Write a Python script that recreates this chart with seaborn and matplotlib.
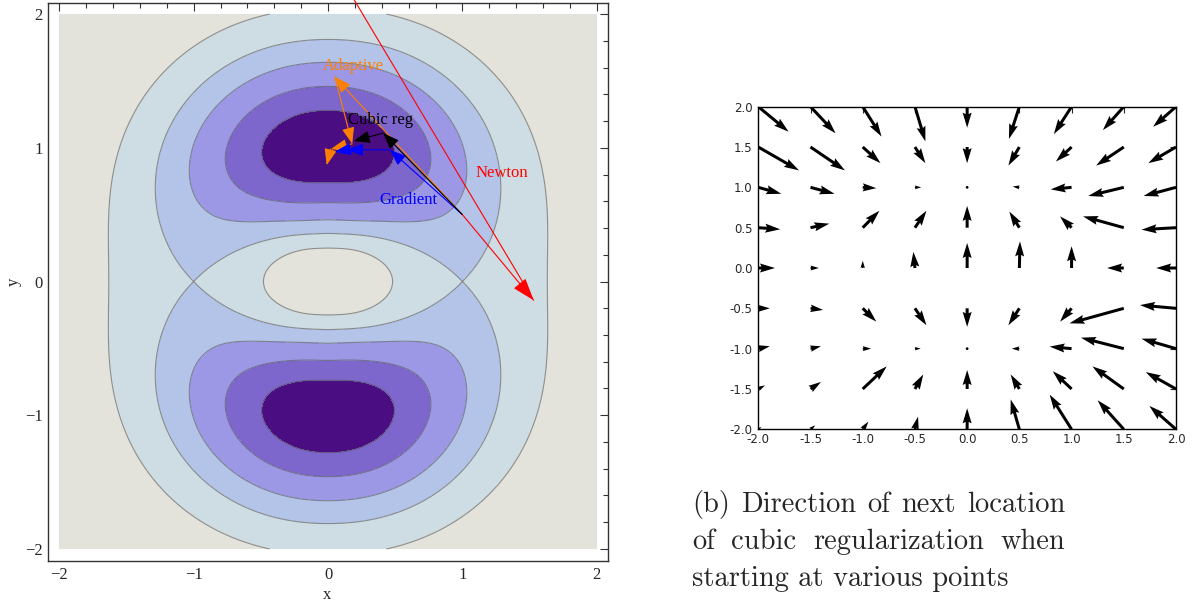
import numpy as np
import matplotlib
matplotlib.use("Agg")
import matplotlib.pyplot as plt
from matplotlib.ticker import MultipleLocator, FormatStrFormatter
import seaborn as sns

# ---- left panel: contour plot of the test function ----
band_colors = ["#4a0e82", "#7d66cc", "#9c98e6", "#b4c3e8", "#cedce3", "#e3e3db"]
band_levels = [0.068, 0.168, 0.29, 0.41, 0.5625]

# ring shaped valley: minima at (0, +-1), saddles at (+-1, 0), bump at the origin
ring_depth = 0.41
depth_power = 1.2
inner_power = 1.4
k_in_y, k_in_x = 1.0, 0.565
k_out_y, k_out_x = 0.916, 0.49
k_out_sat = 0.71

# optimisation paths, all starting at (1, 0.5)
newton_x = [1.0, 1.53, -0.2]
newton_y = [0.5, -0.14, 2.77]
adaptive_x = [1.0, 0.05, 0.18, 0.02, -0.01]
adaptive_y = [0.5, 1.53, 1.03, 0.99, 0.87]
cubic_x = [1.0, 0.41, 0.19]
cubic_y = [0.5, 1.11, 1.05]
gradient_x = [1.0, 0.46, 0.14, 0.05]
gradient_y = [0.5, 0.985, 0.985, 0.97]

labels = ["Adaptive", "Cubic reg", "Gradient", "Newton"]
label_x = [0.19, 0.39, 0.60, 1.29]
label_y = [1.61, 1.205, 0.61, 0.81]
label_colors = ["#ff8000", "black", "#0000ff", "#ff0000"]

# ---- right panel: direction of next cubic regularization step ----
grid_x = [-2.0, -1.5, -1.0, -0.5, 0.0, 0.5, 1.0, 1.5, 2.0]
grid_y = [2.0, 1.5, 1.0, 0.5, 0.0, -0.5, -1.0, -1.5, -2.0]   # rows top -> bottom
step_u = [
    [0.29, 0.24, 0.18, 0.10, 0.0, -0.10, -0.17, -0.20, -0.22],
    [0.39, 0.33, 0.17, 0.10, 0.0, -0.105, -0.15, -0.265, -0.265],
    [0.22, 0.23, 0.13, 0.06, 0.0, -0.064, -0.20, -0.34, -0.31],
    [0.21, 0.18, 0.16, 0.11, 0.0, -0.096, -0.11, -0.39, -0.33],
    [0.16, 0.08, 0.0, -0.015, 0.0, 0.006, 0.0, -0.16, -0.19],
    [0.11, 0.12, 0.13, 0.11, 0.0, -0.105, -0.11, -0.52, -0.345],
    [0.11, 0.10, 0.08, 0.055, 0.0, -0.073, -0.21, -0.41, -0.33],
    [0.064, 0.10, 0.23, 0.08, 0.0, -0.083, -0.18, -0.30, -0.29],
    [0.03, 0.045, 0.054, 0.03, 0.0, -0.083, -0.21, -0.25, -0.255],
]
step_v = [
    [-0.31, -0.33, -0.37, -0.43, -0.26, -0.40, -0.34, -0.29, -0.25],
    [-0.29, -0.29, -0.20, -0.20, -0.20, -0.23, -0.18, -0.23, -0.20],
    [-0.08, -0.08, -0.01, 0.0, 0.0, 0.01, -0.025, -0.107, -0.107],
    [-0.02, 0.05, 0.21, 0.21, 0.27, 0.20, 0.14, 0.14, -0.025],
    [0.0, 0.0, 0.09, 0.20, 0.31, 0.33, 0.27, 0.0, 0.0],
    [0.0, -0.02, -0.165, -0.21, -0.23, -0.21, -0.165, -0.186, 0.04],
    [0.03, 0.03, 0.0, 0.0, 0.0, 0.0, 0.025, 0.136, 0.124],
    [0.045, 0.087, 0.28, 0.18, 0.235, 0.18, 0.22, 0.28, 0.21],
    [0.03, 0.05, 0.095, 0.157, 0.26, 0.37, 0.43, 0.36, 0.29],
]

caption_lines = ["(b) Direction of next location",
                 "of cubic regularization when",
                 "starting at various points"]
caption_justify = [True, True, False]


def surface(x, y):
    rho = np.hypot(x, y)
    s = (x / rho) ** 2
    c = 1 - s
    d = rho - 1
    w = s ** inner_power
    inner = (k_in_y + (k_in_x - k_in_y) * w) * d ** 2
    outer = (k_out_y * c + k_out_x * s) * d ** 2 / (1 + k_out_sat * d ** 2)
    return ring_depth * s ** depth_power + np.where(d < 0, inner, outer)


def draw_path(ax, xs, ys, color, hl=1.0, hw=0.38):
    for i in range(len(xs) - 1):
        ax.annotate("", xy=(xs[i + 1], ys[i + 1]), xytext=(xs[i], ys[i]),
                    annotation_clip=False, zorder=5,
                    arrowprops=dict(arrowstyle=f"-|>,head_length={hl},head_width={hw}",
                                    color=color, lw=0.8, shrinkA=0, shrinkB=0))


sns.set_style("white")
plt.rcParams["font.family"] = ["DejaVu Sans"]
plt.rcParams["axes.unicode_minus"] = False
serif = ["Liberation Serif", "DejaVu Serif"]

W, H = 1199, 602
fig = plt.figure(figsize=(W / 100, H / 100), dpi=100)

# ---- left panel ----
ax1 = fig.add_axes([48.3 / W, 41 / H, 560 / W, 558.3 / H])
xs = np.linspace(-2, 2, 600)
X, Y = np.meshgrid(xs, xs)
Z = surface(X, Y)
ax1.contourf(X, Y, Z, levels=[-1] + band_levels + [10], colors=band_colors)
ax1.contour(X, Y, Z, levels=band_levels, colors="#555555", linewidths=0.8, alpha=0.6)

draw_path(ax1, adaptive_x, adaptive_y, "#ff8000")
draw_path(ax1, gradient_x, gradient_y, "#0000ff")
draw_path(ax1, cubic_x, cubic_y, "black")
draw_path(ax1, newton_x, newton_y, "#ff0000", hl=1.4, hw=0.48)
for t, lx, ly, lc in zip(labels, label_x, label_y, label_colors):
    ax1.text(lx, ly, t, color=lc, fontsize=12, family=serif, ha="center", va="center", zorder=6)

ax1.set_xlim(-2.082, 2.086)
ax1.set_ylim(-2.09, 2.085)
ticks = [-2, -1, 0, 1, 2]
tick_text = ["\u22122", "\u22121", "0", "1", "2"]
ax1.set_xticks(ticks)
ax1.set_xticklabels(tick_text, family=serif, fontsize=12)
ax1.set_yticks(ticks)
ax1.set_yticklabels(tick_text, family=serif, fontsize=12)
ax1.xaxis.set_minor_locator(MultipleLocator(0.2))
ax1.yaxis.set_minor_locator(MultipleLocator(0.2))
ax1.tick_params(which="both", direction="in", top=True, right=True, color="#333333", width=0.8)
ax1.tick_params(which="major", length=6, pad=4)
ax1.tick_params(which="minor", length=3.5)
for sp in ax1.spines.values():
    sp.set_color("#333333")
    sp.set_linewidth(1.0)
fig.text(327 / W, 1 - 595 / H, "x", family=serif, fontsize=12, ha="center", va="center")
fig.text(14 / W, 1 - 282 / H, "y", family=serif, fontsize=12, ha="center", va="center", rotation=90)

# ---- right panel ----
ax2 = fig.add_axes([758.3 / W, (H - 429.3) / H, 417.7 / W, 322.6 / H])
QX, QY = np.meshgrid(grid_x, grid_y)
ax2.quiver(QX, QY, np.array(step_u), np.array(step_v), angles="xy", scale_units="xy",
           scale=1, width=0.0072, color="black")
ax2.set_xlim(-2, 2)
ax2.set_ylim(-2, 2)
ax2.set_xticks(grid_x)
ax2.set_yticks(grid_x)
ax2.xaxis.set_major_formatter(FormatStrFormatter("%.1f"))
ax2.yaxis.set_major_formatter(FormatStrFormatter("%.1f"))
ax2.tick_params(direction="in", top=True, right=True, length=4, width=0.8, labelsize=8.5)
ax2.tick_params(axis="x", pad=3)
ax2.tick_params(axis="y", pad=4)
for sp in ax2.spines.values():
    sp.set_color("black")
    sp.set_linewidth(1.0)

# ---- caption ----
renderer = fig.canvas.get_renderer()
baselines = [512, 549, 586]
x0, width = 692, 373
cap_size = 20.5
for line, just, base in zip(caption_lines, caption_justify, baselines):
    yf = 1 - base / H
    if not just:
        fig.text(x0 / W, yf, line, family="cmr10", fontsize=cap_size, va="baseline")
        continue
    words = line.split()
    items = [fig.text(0, yf, w, family="cmr10", fontsize=cap_size, va="baseline") for w in words]
    widths = [t.get_window_extent(renderer).width for t in items]
    gap = (width - sum(widths)) / (len(words) - 1)
    xp = x0
    for t, w in zip(items, widths):
        t.set_x(xp / W)
        xp += w + gap

fig.savefig("out.png", dpi=100)
